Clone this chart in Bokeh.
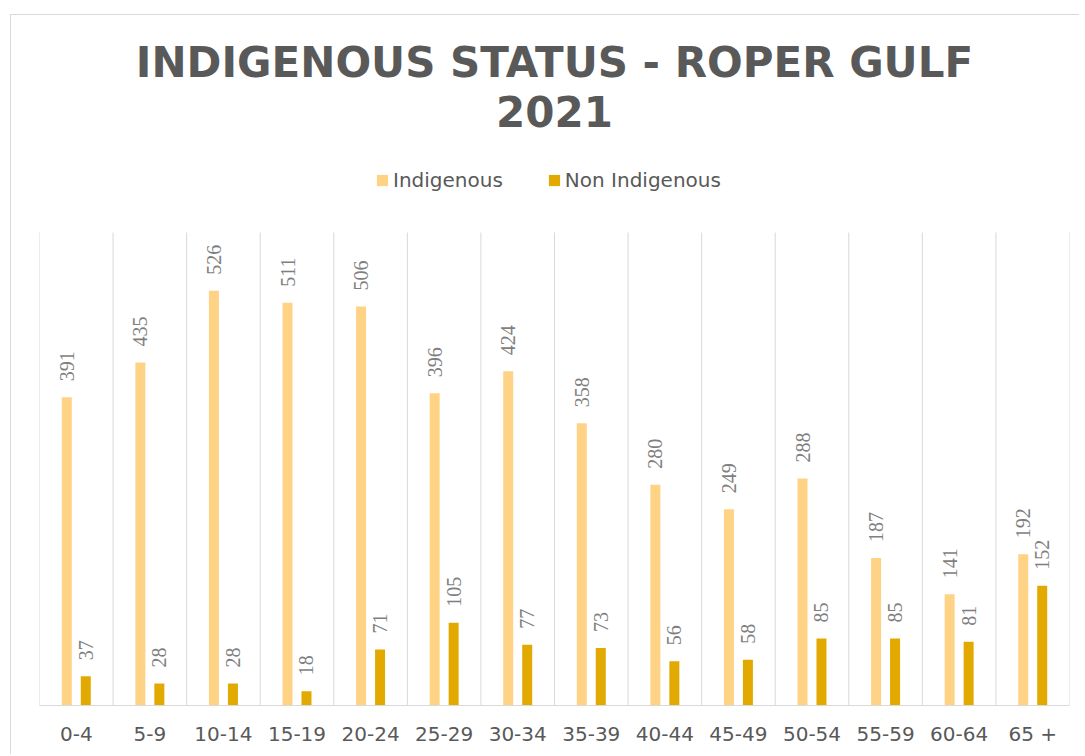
import math
from bokeh.plotting import figure
from bokeh.models import (ColumnDataSource, Range1d, FixedTicker, LabelSet,
                          Legend, LegendItem, Title)
from bokeh.transform import dodge
from bokeh.embed import file_html
from bokeh.resources import INLINE

categories = ["0-4", "5-9", "10-14", "15-19", "20-24", "25-29", "30-34",
              "35-39", "40-44", "45-49", "50-54", "55-59", "60-64", "65 +"]
indigenous = [391, 435, 526, 511, 506, 396, 424, 358, 280, 249, 288, 187, 141, 192]
non_indigenous = [37, 28, 28, 18, 71, 105, 77, 73, 56, 58, 85, 85, 81, 152]

TITLE_1 = "INDIGENOUS STATUS - ROPER GULF"
TITLE_2 = "2021"
Y_MAX = 600
C_IND = "#FFD386"
C_NON = "#E2AA00"
GRID = "#D9D9D9"
TXT = "#595959"

n = len(categories)
src = ColumnDataSource(dict(
    x=[i + 0.5 for i in range(n)],
    cat=categories,
    ind=indigenous,
    non=non_indigenous,
    ind_txt=[str(v) for v in indigenous],
    non_txt=[str(v) for v in non_indigenous],
))

# frame: 1030 x 576 px; the value axis (0..600) occupies the lower 473 px,
# the upper part of the frame holds the legend
FRAME_H, PLOT_H = 576, 473
p = figure(width=1069, height=740, x_range=Range1d(0, n),
           y_range=Range1d(0, Y_MAX * FRAME_H / PLOT_H),
           output_backend="svg", toolbar_location=None,
           min_border_left=28, min_border_right=11, min_border_top=114,
           min_border_bottom=50, margin=(14, 0, 0, 10),
           styles={"border-left": "1px solid #D9D9D9",
                   "border-top": "1px solid #D9D9D9"})

p.title.text = TITLE_1
p.title.align = "center"
p.title.text_font = "DejaVu Sans"
p.title.text_font_size = "42px"
p.title.text_font_style = "bold"
p.title.text_color = TXT
p.title.standoff = 8

t2 = Title(text=TITLE_2, align="center", text_font="DejaVu Sans",
           text_font_size="42px", text_font_style="bold", text_color=TXT,
           standoff=6)
p.add_layout(t2, "above")

# vertical category separators, spanning the value axis
p.segment(x0=list(range(n + 1)), y0=[0] * (n + 1), x1=list(range(n + 1)),
          y1=[Y_MAX] * (n + 1), line_color=GRID, line_width=1)

OFF = 0.129
W = 0.136
r1 = p.vbar(x=dodge("x", -OFF), top="ind", width=W, source=src,
            fill_color=C_IND, line_color=None)
r2 = p.vbar(x=dodge("x", OFF), top="non", width=W, source=src,
            fill_color=C_NON, line_color=None)

for col, txt, off in (("ind", "ind_txt", -OFF), ("non", "non_txt", OFF)):
    ls = LabelSet(x=dodge("x", off), y=col, text=txt, source=src,
                  angle=math.pi / 2, text_align="left", text_baseline="middle",
                  y_offset=16, text_font="Lato", text_font_size="20px",
                  text_color="#7F7F7F")
    p.add_layout(ls)

legend = Legend(items=[LegendItem(label="Indigenous", renderers=[r1]),
                       LegendItem(label="Non Indigenous", renderers=[r2])],
                orientation="horizontal", location=(336, 513),
                glyph_width=14, glyph_height=14, label_standoff=4, spacing=44,
                label_text_font="DejaVu Sans", label_text_font_size="20px",
                label_text_color=TXT, border_line_color=None,
                background_fill_alpha=0, padding=0, margin=0)
p.add_layout(legend, "center")

p.xaxis.ticker = FixedTicker(ticks=[i + 0.5 for i in range(n)])
p.xaxis.major_label_overrides = {i + 0.5: c for i, c in enumerate(categories)}
p.xaxis.major_label_text_font = "DejaVu Sans"
p.xaxis.major_label_text_font_size = "20px"
p.xaxis.major_label_text_color = TXT
p.xaxis.major_label_standoff = 16
p.xaxis.major_tick_out = 0
p.xaxis.major_tick_in = 0
p.xaxis.major_tick_line_color = None
p.xaxis.minor_tick_line_color = None
p.xaxis.axis_line_color = GRID
p.xgrid.visible = False
p.ygrid.visible = False
p.yaxis.visible = False
p.outline_line_color = None

open("out.html", "w").write(file_html(p, INLINE))
